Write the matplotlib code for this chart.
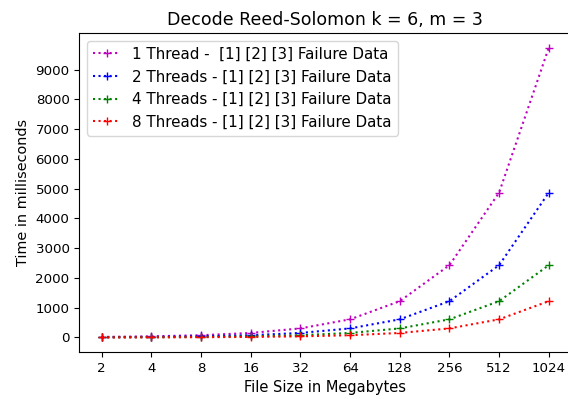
import matplotlib
matplotlib.use("Agg")
import matplotlib.pyplot as plt

plt.rcParams["savefig.bbox"] = "standard"

# file sizes (MB) and decode times (ms)
sizes = ["2", "4", "8", "16", "32", "64", "128", "256", "512", "1024"]
t1 = [19, 38, 76, 152, 305, 610, 1220, 2430, 4870, 9740]
t2 = [10, 19, 38, 76, 152, 305, 610, 1220, 2430, 4870]
t4 = [5, 10, 19, 38, 76, 152, 305, 610, 1220, 2430]
t8 = [2, 5, 10, 19, 38, 76, 152, 305, 610, 1220]

labels = ["1 Thread -  [1] [2] [3] Failure Data",
          "2 Threads - [1] [2] [3] Failure Data",
          "4 Threads - [1] [2] [3] Failure Data",
          "8 Threads - [1] [2] [3] Failure Data"]
colors = ["m", "b", "g", "r"]

fig = plt.figure(figsize=(5.68, 3.99), dpi=100)
# right edge of the axes sits just past the image border (cropped like the original)
ax = fig.add_axes([0.1396, 0.118, 0.866, 0.799])

for ys, lab, c in zip([t1, t2, t4, t8], labels, colors):
    ax.plot(sizes, ys, linestyle=":", marker="+", color=c, label=lab)

ax.spines["right"].set_visible(False)  # cropped off in the original
ax.set_yticks(range(0, 10000, 1000))
ax.tick_params(labelsize=9.6)
ax.set_title("Decode Reed-Solomon k = 6, m = 3", fontsize=12.5)
ax.set_xlabel("File Size in Megabytes", fontsize=10.5)
ax.set_ylabel("Time in milliseconds", fontsize=10.4)
ax.legend(loc="upper left", fontsize=10.9, handlelength=1.8)

fig.savefig("out.png")
